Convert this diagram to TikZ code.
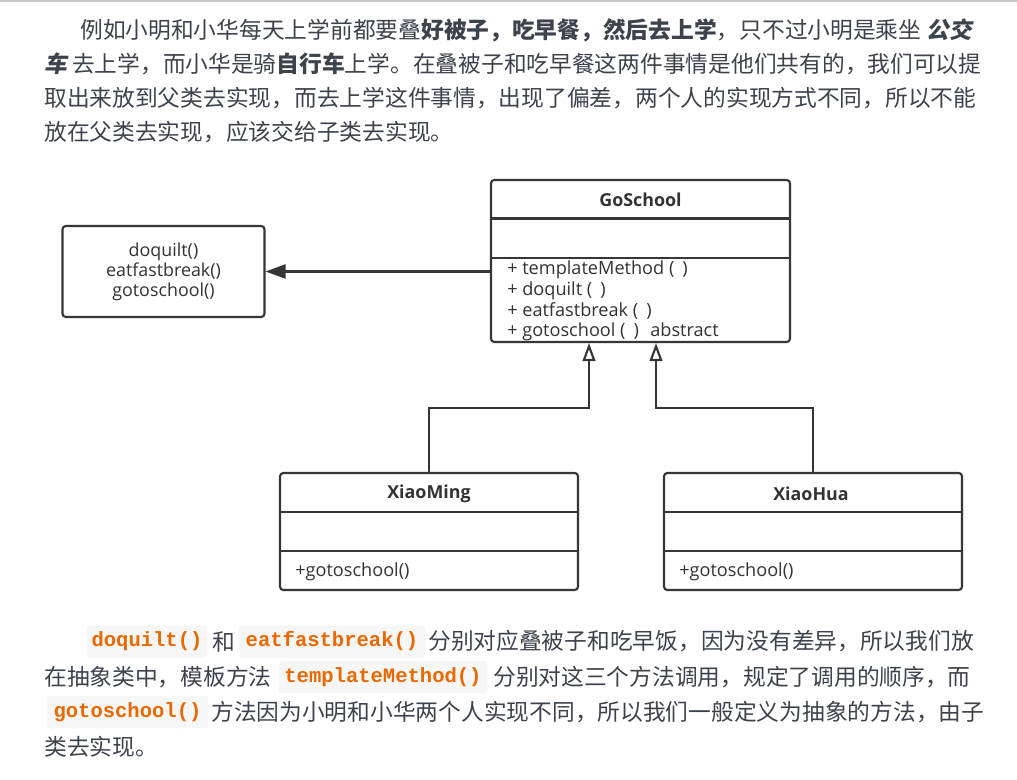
\documentclass[tikz,border=0pt]{standalone}
\usepackage{fontspec}
\setmainfont{Noto Sans CJK SC}
\newfontfamily\cjkslant{Noto Sans CJK SC}[FakeSlant=0.2]
\newfontfamily\umlfont{Open Sans}
\newfontfamily\codefont{Liberation Mono}
\usetikzlibrary{arrows.meta}
\definecolor{txt}{HTML}{3D434D}
\definecolor{umlline}{HTML}{363636}
\definecolor{umltxt}{HTML}{333333}
\definecolor{codefg}{HTML}{E96900}
\definecolor{codebg}{HTML}{F6F6F6}
\definecolor{topline}{HTML}{C8C8C8}
\newdimen\pxu \pxu=0.75pt
\begin{document}
\begin{tikzpicture}[x=0.75pt,y=-0.75pt,
  para/.style={anchor=west,inner sep=0pt,text=txt,font=\fontsize{17.05}{20}\selectfont},
  codebox/.style={fill=codebg,rounded corners=2pt,inner sep=0pt,minimum height=32\pxu,text=codefg,font=\codefont\bfseries\fontsize{15.4}{18}\selectfont},
  umlbox/.style={draw=umlline,line width=1.6pt,rounded corners=2.5pt,inner sep=0pt,text=umltxt,font=\umlfont\fontsize{13.4}{15}\selectfont},
  umltitle/.style={inner sep=0pt,text=umltxt,font=\umlfont\bfseries\fontsize{13.4}{15}\selectfont},
  umlrow/.style={anchor=west,inner sep=0pt,text=umltxt,font=\umlfont\fontsize{13.6}{15}\selectfont},
  sep/.style={draw=umlline,line width=1.6pt},
  assoc/.style={draw=umlline,line width=1.6pt,-{Triangle[length=15pt,width=10.5pt]}},
  inh/.style={draw=umlline,line width=1.6pt,-{Triangle[open,length=13.5pt,width=9.5pt,fill=white]}}
]
\fill[white] (0,0) rectangle (1017,780);
\useasboundingbox (0,0) rectangle (1017,780);
\draw[topline,line width=1.2pt] (0,0.8) -- (1017,0.8);

% top paragraph
\node[para] (p1) at (80,30) {例如小明和小华每天上学前都要叠\textbf{好被子，吃早餐，然后去上学}，只不过小明是乘坐 {\cjkslant\bfseries 公交}};
\node[para] (p2) at (44,64) {{\cjkslant\bfseries 车} 去上学，而小华是骑\textbf{自行车}上学。在叠被子和吃早餐这两件事情是他们共有的，我们可以提};
\node[para] (p3) at (44,98) {取出来放到父类去实现，而去上学这件事情，出现了偏差，两个人的实现方式不同，所以不能};
\node[para] (p4) at (44,132) {放在父类去实现，应该交给子类去实现。};

% UML boxes
\node[umlbox,align=center,minimum width=202\pxu,minimum height=91\pxu] (ops) at (163.5,271.5)
  {doquilt()\\eatfastbreak()\\gotoschool()};
\node[umlbox,minimum width=299\pxu,minimum height=162\pxu] (goschool) at (640.5,261) {};
\node[umltitle] (gtitle) at (640.5,200) {GoSchool};
\draw[sep] (goschool.west |- 0,218.5) -- (goschool.east |- 0,218.5);
\draw[sep] (goschool.west |- 0,258) -- (goschool.east |- 0,258);
\node[umlrow] (g1) at (507,270) {+ templateMethod (\hspace{6pt})};
\node[umlrow] (g2) at (507,290.5) {+ doquilt (\hspace{6pt})};
\node[umlrow] (g3) at (507,311) {+ eatfastbreak (\hspace{6pt})};
\node[umlrow] (g4) at (507,331.5) {+ gotoschool (\hspace{6pt})\hspace{5pt} abstract};

\node[umlbox,minimum width=298\pxu,minimum height=117\pxu] (xiaoming) at (429,531.5) {};
\node[umltitle] (mtitle) at (429,494) {XiaoMing};
\draw[sep] (xiaoming.west |- 0,512) -- (xiaoming.east |- 0,512);
\draw[sep] (xiaoming.west |- 0,551) -- (xiaoming.east |- 0,551);
\node[umlrow] (m1) at (295,572) {+gotoschool()};

\node[umlbox,minimum width=298\pxu,minimum height=117\pxu] (xiaohua) at (813,531.5) {};
\node[umltitle] (htitle) at (811,494) {XiaoHua};
\draw[sep] (xiaohua.west |- 0,512) -- (xiaohua.east |- 0,512);
\draw[sep] (xiaohua.west |- 0,551) -- (xiaohua.east |- 0,551);
\node[umlrow] (h1) at (679,572) {+gotoschool()};

% connectors
\draw[assoc] (goschool.west |- ops.east) -- (ops.east);
\coordinate (j1) at (589,408);
\coordinate (j2) at (656,408);
\draw[inh] (xiaoming.north) |- (j1) -- (j1 |- goschool.south);
\draw[inh] (xiaohua.north) |- (j2) -- (j2 |- goschool.south);

% bottom paragraph
\node[codebox,minimum width=120\pxu] (c1) at (147,641.5) {doquilt()};
\node[para] (b1a) at (212,641.5) {和};
\node[codebox,minimum width=186\pxu] (c2) at (332,641.5) {eatfastbreak()};
\node[para] (b1b) at (428,641.5) {分别对应叠被子和吃早饭，因为没有差异，所以我们放};
\node[para] (b2a) at (44,677) {在抽象类中，模板方法};
\node[codebox,minimum width=208\pxu] (c3) at (383,677) {templateMethod()};
\node[para] (b2b) at (493,677) {分别对这三个方法调用，规定了调用的顺序，而};
\node[codebox,minimum width=161\pxu] (c4) at (127.5,712) {gotoschool()};
\node[para] (b3) at (211,712) {方法因为小明和小华两个人实现不同，所以我们一般定义为抽象的方法，由子};
\node[para] (b4) at (44,747) {类去实现。};
\end{tikzpicture}
\end{document}
